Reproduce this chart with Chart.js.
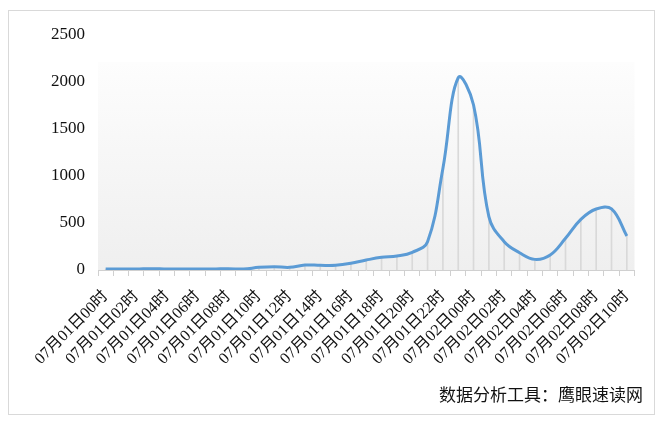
<!DOCTYPE html>
<html>
<head>
<meta charset="utf-8">
<script src="https://cdn.jsdelivr.net/npm/chart.js@4.4.1/dist/chart.umd.min.js"></script>
<style>
  body { margin: 0; background: #fff; }
  #wrap { position: relative; width: 667px; height: 426px; }
  #frame { position: absolute; left: 8px; top: 10px; width: 645px; height: 403px; border: 1px solid #d9d9d9; }
  #chart { position: absolute; left: 0; top: 0; }
  #source { position: absolute; right: 24px; top: 381px; font: 17px "Noto Sans CJK SC", sans-serif; color: #111; }
</style>
</head>
<body>
<div id="wrap">
  <div id="frame"></div>
  <canvas id="chart" width="667" height="426"></canvas>
  <div id="source">数据分析工具：鹰眼速读网</div>
</div>
<script>
// hourly counts, 07-01 00h .. 07-02 10h
const hours = [
  '07月01日00时','07月01日01时','07月01日02时','07月01日03时','07月01日04时','07月01日05时',
  '07月01日06时','07月01日07时','07月01日08时','07月01日09时','07月01日10时','07月01日11时',
  '07月01日12时','07月01日13时','07月01日14时','07月01日15时','07月01日16时','07月01日17时',
  '07月01日18时','07月01日19时','07月01日20时','07月01日21时','07月01日22时','07月01日23时',
  '07月02日00时','07月02日01时','07月02日02时','07月02日03时','07月02日04时','07月02日05时',
  '07月02日06时','07月02日07时','07月02日08时','07月02日09时','07月02日10时'
];
const counts = [10,10,10,14,10,10,10,10,14,10,28,35,28,53,50,50,71,106,135,149,188,301,1080,2045,1755,567,301,184,113,160,337,539,649,649,362];
const yTicks = [0,500,1000,1500,2000,2500];

const numFont = { family: '"Liberation Serif", "Noto Sans CJK SC", serif', size: 17 };
const catFont = { family: '"Liberation Serif", "Noto Sans CJK SC", serif', size: 16 };

// soft gray fill behind the plot
const plotBg = {
  id: 'plotBg',
  beforeDraw(chart) {
    const { ctx, chartArea: a } = chart;
    const top = a.top + 27;
    const g = ctx.createLinearGradient(0, top, 0, a.bottom);
    g.addColorStop(0, '#fdfdfd');
    g.addColorStop(1, '#efefef');
    ctx.save();
    ctx.fillStyle = g;
    ctx.fillRect(a.left, top, a.right - a.left, a.bottom - top);
    ctx.restore();
  }
};

new Chart(document.getElementById('chart'), {
  data: {
    labels: hours,
    datasets: [
      {
        type: 'line',
        data: counts,
        borderColor: '#5b9bd5',
        borderWidth: 3,
        pointRadius: 0,
        tension: 0.4,
        fill: false,
        order: 0
      },
      {
        // thin drop lines under each point
        type: 'bar',
        data: counts,
        backgroundColor: '#d9d9d9',
        barThickness: 1,
        order: 1
      }
    ]
  },
  options: {
    responsive: false,
    animation: false,
    layout: { padding: { left: 0, right: 32.5, top: 35, bottom: 0 } },
    plugins: { legend: { display: false }, tooltip: { enabled: false } },
    scales: {
      x: {
        offset: true,
        grid: { offset: true, drawOnChartArea: false, drawTicks: true, tickLength: 6, color: '#d0d0d0' },
        border: { color: '#d0d0d0' },
        ticks: {
          autoSkip: false,
          maxRotation: 45,
          minRotation: 45,
          padding: 11,
          color: '#111',
          font: catFont,
          callback: (v, i) => (i % 2 === 0 ? hours[i] : '')
        },
        afterFit: s => { s.height = 156; }
      },
      y: {
        min: 0,
        max: 2500,
        afterBuildTicks: s => { s.ticks = yTicks.map(v => ({ value: v })); },
        grid: { display: false, drawTicks: false },
        border: { display: false },
        ticks: { padding: 13, color: '#111', font: numFont, callback: v => String(v) },
        afterFit: s => { s.width = 98; }
      }
    }
  },
  plugins: [plotBg]
});
</script>
</body>
</html>
